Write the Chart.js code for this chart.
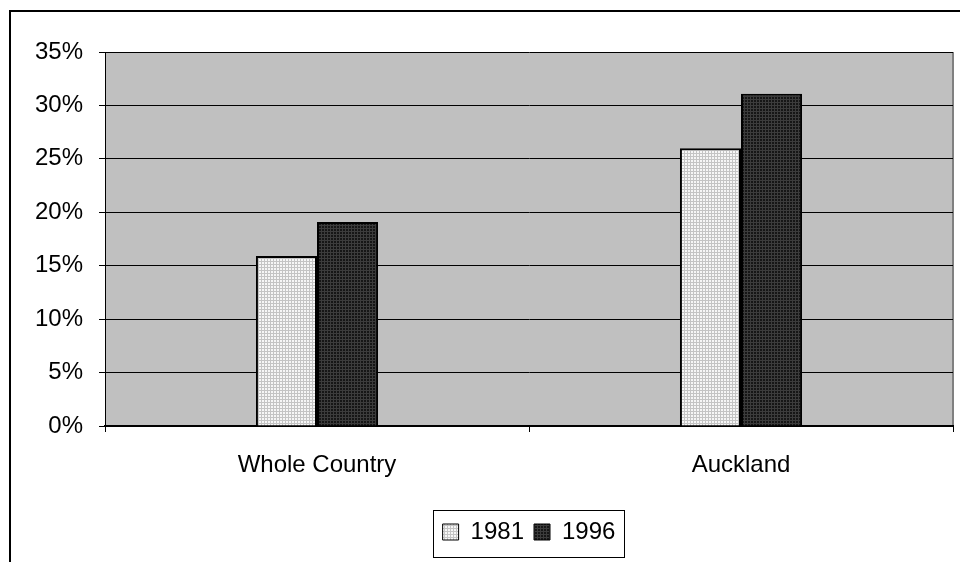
<!DOCTYPE html>
<html>
<head>
<meta charset="utf-8">
<script src="https://cdn.jsdelivr.net/npm/chart.js@4.4.1/dist/chart.umd.min.js"></script>
<style>
  html, body { margin: 0; padding: 0; background: #fff; }
  canvas { display: block; }
</style>
</head>
<body>
<canvas id="c" width="960" height="562"></canvas>
<script>
// Share of population, by area and census year
const categories = ['Whole Country', 'Auckland'];
const seriesNames = ['1981', '1996'];
const values1981 = [15.9, 26.0];
const values1996 = [19.1, 31.1];
const yTicks = [0, 5, 10, 15, 20, 25, 30, 35];

const canvas = document.getElementById('c');
const ctx = canvas.getContext('2d');

// Small repeating tiles give the bars their dotted fill
function makePattern(bg, fg) {
  const t = document.createElement('canvas');
  t.width = 3; t.height = 3;
  const g = t.getContext('2d');
  g.fillStyle = bg; g.fillRect(0, 0, 3, 3);
  g.fillStyle = fg; g.fillRect(0, 0, 3, 1); g.fillRect(0, 0, 1, 3);
  return ctx.createPattern(t, 'repeat');
}
const fill1981 = makePattern('#f6f6f6', '#c4c4c4');
const fill1996 = makePattern('#161616', '#3c3c3c');

const FONT = { family: "'Liberation Sans', Arial, sans-serif", size: 24 };
const LEGEND_PAD = 10;

// Page frame, grey plot area, legend centred under the plot, boxed legend
const framePlugin = {
  id: 'frame',
  beforeDraw(chart) {
    const c = chart.ctx, a = chart.chartArea;
    const lg = chart.legend;
    if (lg) {
      lg.left = a.left;
      lg.right = a.right;
      lg.width = a.right - a.left;
    }
    c.save();
    c.fillStyle = '#fff';
    c.fillRect(0, 0, chart.width, chart.height);
    c.strokeStyle = '#000';
    c.lineWidth = 2;
    c.strokeRect(10, 11, chart.width + 20, chart.height + 20);
    c.fillStyle = '#c0c0c0';
    c.fillRect(a.left, a.top, a.right - a.left, a.bottom - a.top);
    c.strokeStyle = '#808080';
    c.lineWidth = 2;
    c.beginPath();
    c.moveTo(a.right, a.top);
    c.lineTo(a.right, a.bottom);
    c.stroke();
    c.restore();
  },
  afterDraw(chart) {
    const lg = chart.legend;
    if (!lg || !lg.lineWidths) return;
    const lw = lg.lineWidths[0];
    const itemsLeft = (lg.left + LEGEND_PAD + lg.right - lw) / 2;
    const left = itemsLeft - 10;
    const right = itemsLeft + lw - LEGEND_PAD + 8;
    const top = lg.top;
    const bottom = lg.top + LEGEND_PAD + FONT.size + 13;
    const c = chart.ctx;
    c.save();
    c.strokeStyle = '#000';
    c.lineWidth = 1;
    c.strokeRect(Math.round(left) + 0.5, Math.round(top) + 0.5, Math.round(right - left), Math.round(bottom - top));
    c.restore();
  }
};

new Chart(canvas, {
  type: 'bar',
  data: {
    labels: categories,
    datasets: [
      { label: seriesNames[0], data: values1981, backgroundColor: fill1981 },
      { label: seriesNames[1], data: values1996, backgroundColor: fill1996 }
    ]
  },
  options: {
    responsive: false,
    devicePixelRatio: 1,
    animation: false,
    layout: { padding: { left: 0, right: 7, top: 52, bottom: 8 } },
    datasets: {
      bar: {
        categoryPercentage: 0.288,
        barPercentage: 1,
        borderColor: '#000',
        borderWidth: 2
      }
    },
    scales: {
      x: {
        offset: true,
        grid: { offset: true, drawOnChartArea: false, drawTicks: true, tickLength: 6, color: '#000', lineWidth: 1 },
        border: { display: true, color: '#000', width: 2 },
        ticks: { color: '#000', font: FONT, padding: 19, maxRotation: 0, autoSkip: false },
        afterFit(s) { s.height = 84; }
      },
      y: {
        min: 0,
        max: 35,
        afterBuildTicks(s) { s.ticks = yTicks.map(v => ({ value: v })); },
        grid: { color: '#000', lineWidth: 1, drawTicks: true, tickLength: 6 },
        border: { display: true, color: '#000', width: 1 },
        ticks: { color: '#000', font: FONT, padding: 16, callback: v => v + '%' },
        afterFit(s) { s.width = 105; }
      }
    },
    plugins: {
      tooltip: { enabled: false },
      legend: {
        position: 'bottom',
        labels: {
          font: FONT,
          color: '#000',
          boxWidth: 16,
          boxHeight: 16,
          padding: LEGEND_PAD,
          generateLabels(chart) {
            return chart.data.datasets.map((d, i) => ({
              text: d.label,
              fillStyle: d.backgroundColor,
              strokeStyle: '#000',
              lineWidth: 1,
              fontColor: '#000',
              hidden: false,
              datasetIndex: i
            }));
          }
        }
      }
    }
  },
  plugins: [framePlugin]
});
</script>
</body>
</html>
